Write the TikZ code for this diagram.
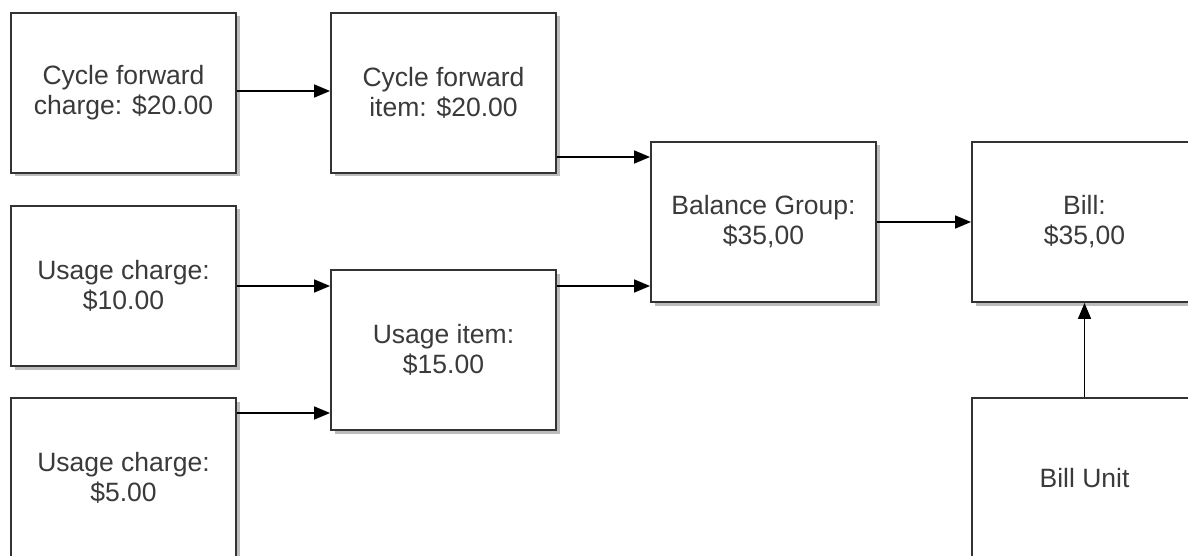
\documentclass[tikz,border=0pt]{standalone}
\usepackage{fontspec}
\setmainfont{Liberation Sans}
\usetikzlibrary{arrows.meta,shadows}
\definecolor{linec}{HTML}{333333}
\definecolor{textc}{HTML}{3A3A3A}
\tikzset{
  box/.style={draw=linec, line width=1.9pt, fill=white, minimum width=225pt, minimum height=160pt,
    align=center, text=textc, font=\fontsize{26.5}{30}\selectfont, inner sep=0pt,
    drop shadow={shadow xshift=3.5pt, shadow yshift=-3.5pt, fill=black!35, opacity=0.75}},
  arr/.style={draw=black, line width=1.6pt, -{Triangle[length=16pt,width=13pt]}}
}
\begin{document}
\begin{tikzpicture}[x=1pt,y=-1pt]
\useasboundingbox (0,0) rectangle (1188,556);
\clip (0,0) rectangle (1188,556);
\fill[white] (0,0) rectangle (1188,556);
\node[box] (b1) at (123.5,93) {Cycle forward\\charge: \$20.00};
\node[box] (b2) at (443.5,93) {Cycle forward\\item: \$20.00};
\node[box] (b3) at (123.5,286) {Usage charge:\\\$10.00};
\node[box] (b4) at (123.5,478) {Usage charge:\\\$5.00};
\node[box] (b5) at (443.5,350) {Usage item:\\\$15.00};
\node[box] (b6) at (763.5,222) {Balance Group:\\\$35,00};
\node[box] (b7) at (1084.5,222) {Bill:\\\$35,00};
\node[box] (b8) at (1084.5,478) {Bill Unit};
\draw[arr] (b1.east |- 0,91) -- (b2.west |- 0,91);
\draw[arr] (b2.east |- 0,157) -- (b6.west |- 0,157);
\draw[arr] (b3.east |- 0,286) -- (b5.west |- 0,286);
\draw[arr] (b5.east |- 0,286) -- (b6.west |- 0,286);
\draw[arr] (b4.east |- 0,413) -- (b5.west |- 0,413);
\draw[arr] (b6.east) -- (b7.west);
\draw[arr] (b8.north) -- (b7.south);
\end{tikzpicture}
\end{document}
